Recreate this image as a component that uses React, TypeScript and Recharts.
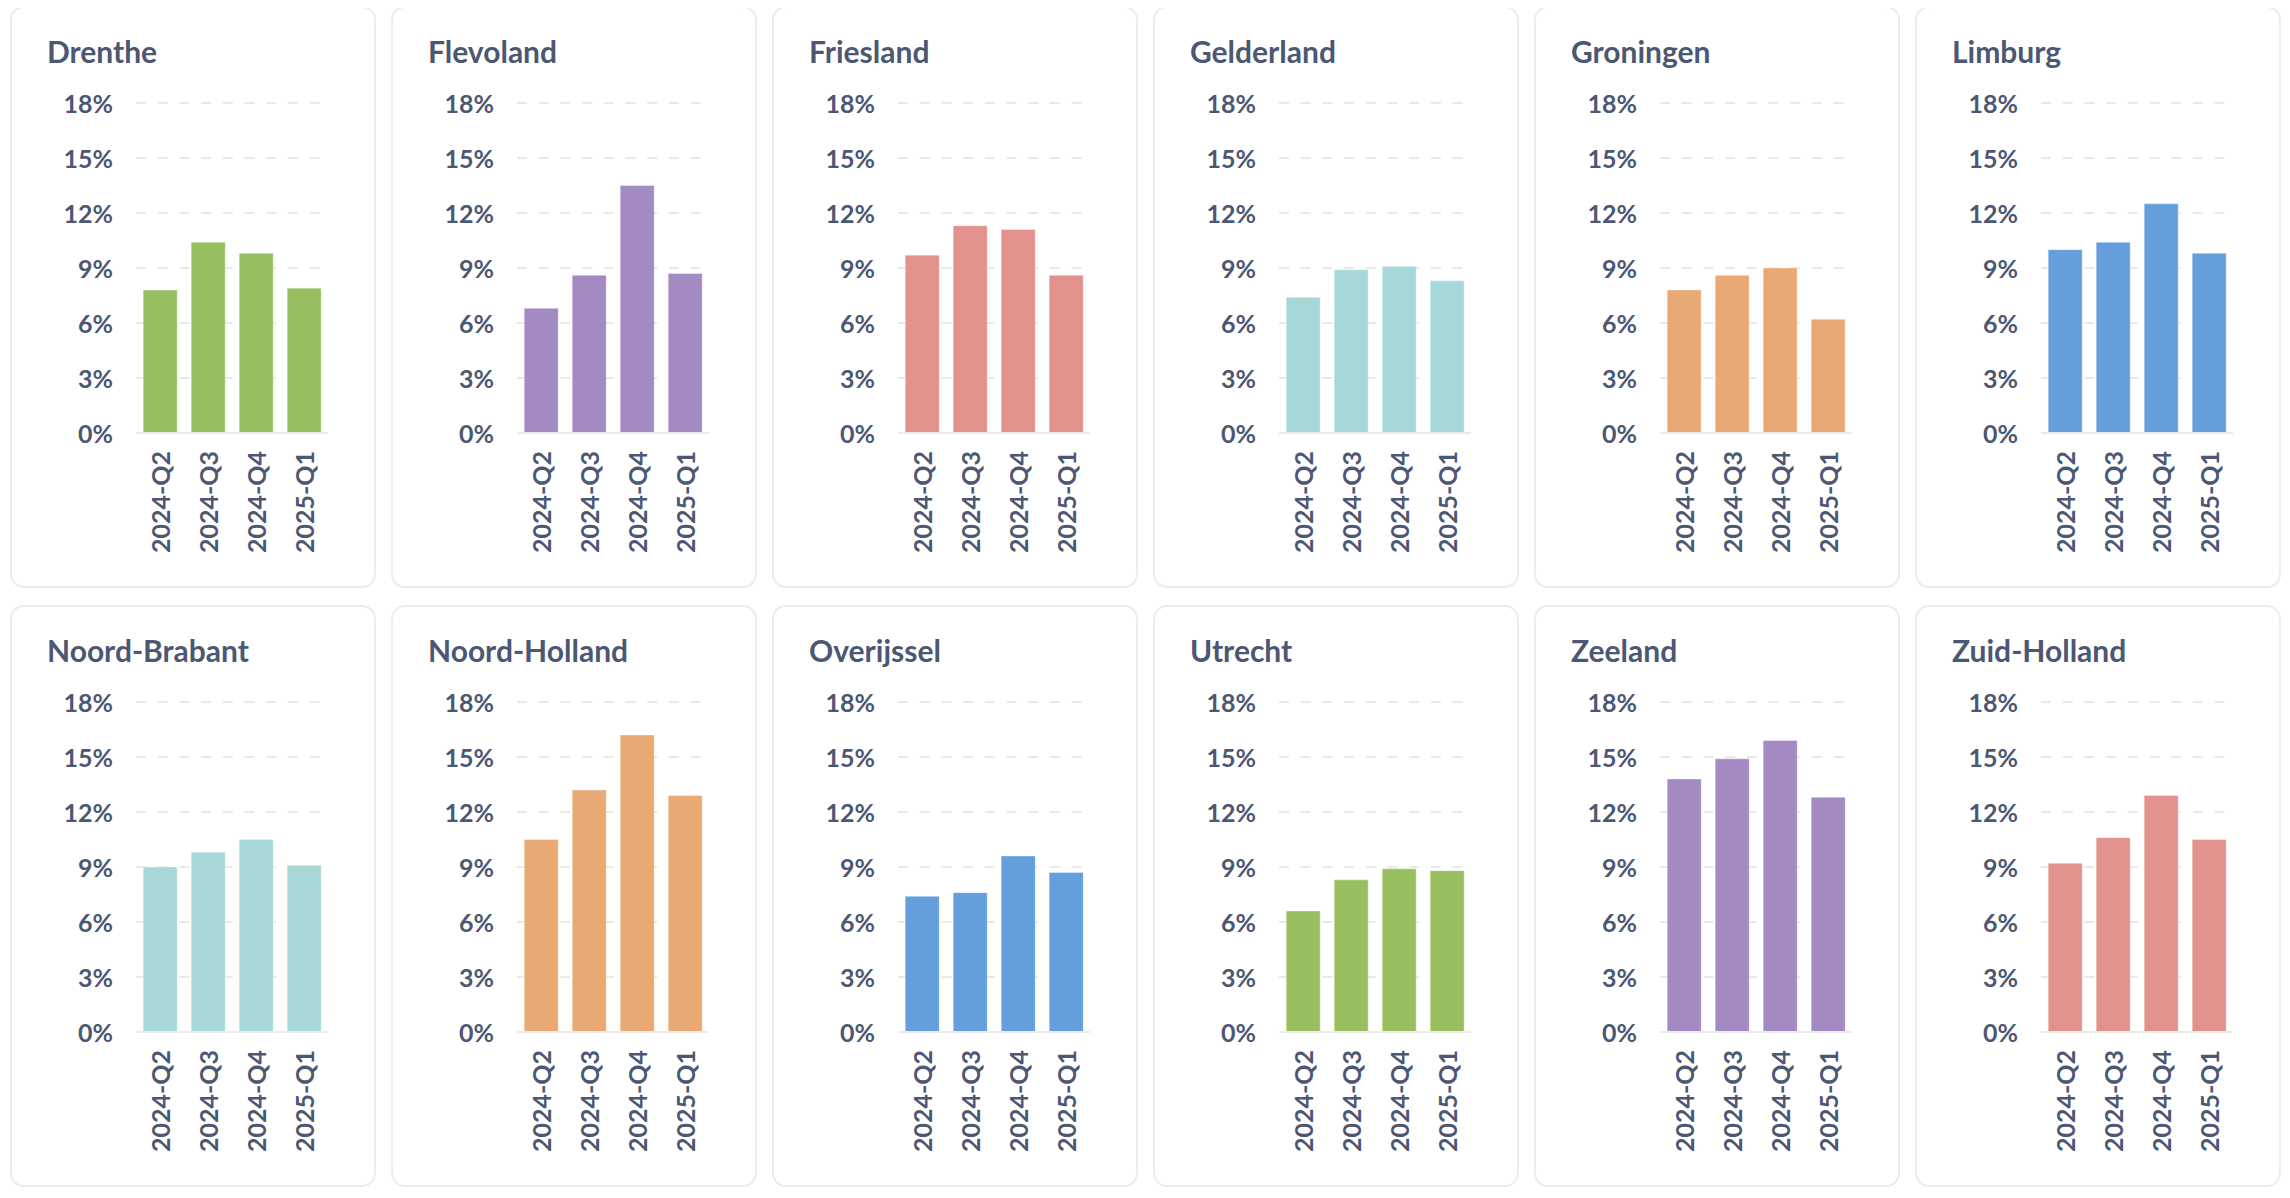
import React from 'react'
import { BarChart, Bar, XAxis, YAxis, CartesianGrid } from 'recharts'

const quarters = ['2024-Q2', '2024-Q3', '2024-Q4', '2025-Q1']
const yTicks = [0, 3, 6, 9, 12, 15, 18]

const provinces = [
  'Drenthe', 'Flevoland', 'Friesland', 'Gelderland', 'Groningen', 'Limburg',
  'Noord-Brabant', 'Noord-Holland', 'Overijssel', 'Utrecht', 'Zeeland', 'Zuid-Holland',
]

// share per quarter, in %
const drenthe = [7.8, 10.4, 9.8, 7.9]
const flevoland = [6.8, 8.6, 13.5, 8.7]
const friesland = [9.7, 11.3, 11.1, 8.6]
const gelderland = [7.4, 8.9, 9.1, 8.3]
const groningen = [7.8, 8.6, 9.0, 6.2]
const limburg = [10.0, 10.4, 12.5, 9.8]
const noordBrabant = [9.0, 9.8, 10.5, 9.1]
const noordHolland = [10.5, 13.2, 16.2, 12.9]
const overijssel = [7.4, 7.6, 9.6, 8.7]
const utrecht = [6.6, 8.3, 8.9, 8.8]
const zeeland = [13.8, 14.9, 15.9, 12.8]
const zuidHolland = [9.2, 10.6, 12.9, 10.5]

const seriesValues = [
  drenthe, flevoland, friesland, gelderland, groningen, limburg,
  noordBrabant, noordHolland, overijssel, utrecht, zeeland, zuidHolland,
]

const GREEN = '#98bf5f'
const PURPLE = '#a38ac2'
const SALMON = '#e3918d'
const TEAL = '#a7d8d7'
const ORANGE = '#e9a975'
const BLUE = '#649edd'

const cardColors = [GREEN, PURPLE, SALMON, TEAL, ORANGE, BLUE, TEAL, ORANGE, BLUE, GREEN, PURPLE, SALMON]

const TEXT = '#4c5773'
const FONT = 'Lato, sans-serif'

const CARD_W = 366
const CARD_H = 582
const BORDER = 2

const YTick = (props: any) => {
  const { x, y, payload } = props
  return (
    <text x={x} y={y} textAnchor="end" dominantBaseline="central"
      fill={TEXT} fontFamily={FONT} fontWeight={700} fontSize={25}>
      {payload.value}%
    </text>
  )
}

const XTick = (props: any) => {
  const { x, y, payload } = props
  return (
    <text x={x} y={y} transform={`rotate(-90 ${x} ${y})`} textAnchor="end" dominantBaseline="central"
      fill={TEXT} fontFamily={FONT} fontWeight={700} fontSize={25}>
      {payload.value}
    </text>
  )
}

function Card({ name, values, color }: { name: string; values: number[]; color: string }) {
  const data = quarters.map((q, i) => ({ quarter: q, value: values[i] }))
  return (
    <div style={{
      position: 'relative', width: CARD_W, height: CARD_H, boxSizing: 'border-box',
      border: `${BORDER}px solid #ececec`, borderRadius: 14, background: '#fff',
    }}>
      <div style={{
        position: 'absolute', left: 37 - BORDER, top: 29.5 - BORDER,
        fontFamily: FONT, fontWeight: 700, fontSize: 30, lineHeight: 1, color: TEXT, whiteSpace: 'nowrap',
      }}>
        {name}
      </div>
      <div style={{ position: 'absolute', left: -BORDER, top: -BORDER }}>
        <BarChart width={CARD_W} height={CARD_H} data={data}
          margin={{ top: 97, right: 48, bottom: 35, left: 0 }} barCategoryGap="15%">
          <CartesianGrid vertical={false} stroke="#e9e9e9" strokeWidth={2} strokeDasharray="10 11.7" />
          <XAxis dataKey="quarter" height={120} tickSize={0} tickMargin={18} interval={0}
            axisLine={{ stroke: '#ececec', strokeWidth: 2 }} tickLine={false} tick={<XTick />} />
          <YAxis width={126} domain={[0, 18]} ticks={yTicks} tickSize={0} tickMargin={23}
            axisLine={false} tickLine={false} tick={<YTick />} />
          <Bar dataKey="value" fill={color} stroke="rgba(255,255,255,0.35)" strokeWidth={1}
            isAnimationActive={false} />
        </BarChart>
      </div>
    </div>
  )
}

export default function App() {
  return (
    <div style={{
      marginLeft: 2, marginTop: -2, display: 'grid',
      gridTemplateColumns: `repeat(6, ${CARD_W}px)`, columnGap: 15, rowGap: 17,
    }}>
      {provinces.map((p, i) => (
        <Card key={p} name={p} values={seriesValues[i]} color={cardColors[i]} />
      ))}
    </div>
  )
}
